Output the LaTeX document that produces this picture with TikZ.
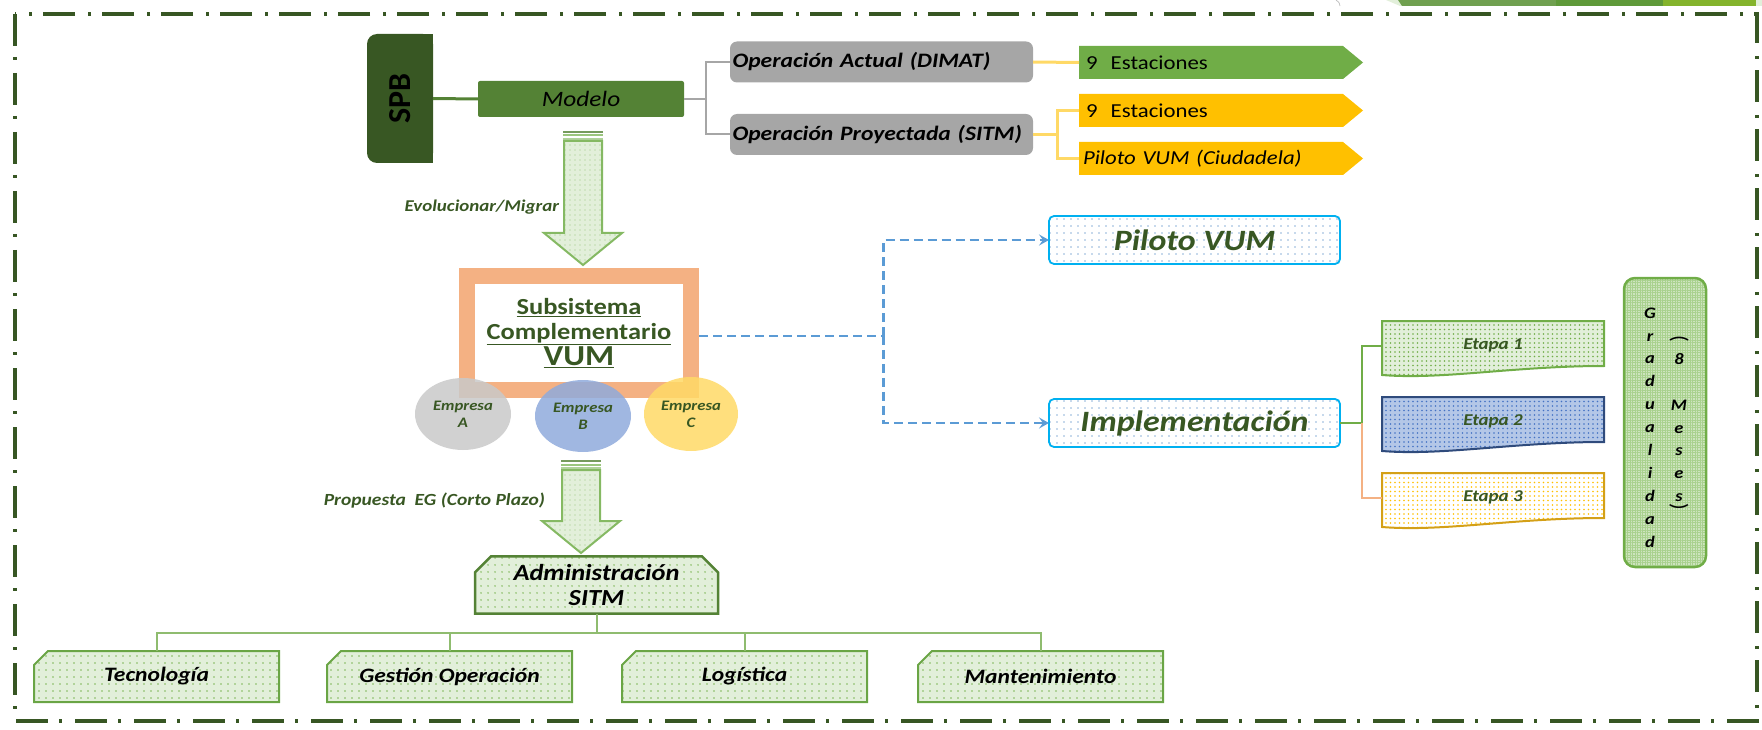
\documentclass[tikz,border=0pt]{standalone}
\usepackage{fontspec}
\setmainfont{Carlito}[FakeStretch=1.15]
\newfontfamily\plainfont{Carlito}
\usetikzlibrary{shapes.geometric,shapes.misc,patterns.meta,backgrounds,calc,arrows.meta}

\definecolor{framegreen}{HTML}{375623}
\definecolor{spbgreen}{HTML}{385723}
\definecolor{modgreen}{HTML}{548235}
\definecolor{opgray}{HTML}{A6A6A6}
\definecolor{lyellow}{HTML}{FFD966}
\definecolor{sgreen}{HTML}{70AD47}
\definecolor{syellow}{HTML}{FFC000}
\definecolor{orangef}{HTML}{F4B183}
\definecolor{dashblue}{HTML}{5B9BD5}
\definecolor{cyanb}{HTML}{00B0F0}
\definecolor{txtgreen}{HTML}{385723}
\definecolor{lgreen}{HTML}{E2EFDA}
\definecolor{dotgreen}{HTML}{7FB85A}
\definecolor{boxgreen}{HTML}{6AA545}
\definecolor{blfill}{HTML}{B4C7E7}
\definecolor{bldot}{HTML}{4472C4}
\definecolor{blborder}{HTML}{2F4B7C}
\definecolor{ylborder}{HTML}{D4A017}
\definecolor{gradfill}{HTML}{CDE4BE}
\definecolor{gradhatch}{HTML}{A9D18E}
\definecolor{empA}{HTML}{C9C9C9}
\definecolor{empB}{HTML}{8FAADC}
\definecolor{empC}{HTML}{FFD966}
\definecolor{dotblue}{HTML}{8FB4D9}
\definecolor{treeline}{HTML}{8FBC6F}
\definecolor{decolight}{HTML}{E2EFDA}
\definecolor{decogA}{HTML}{70A050}
\definecolor{decogB}{HTML}{5F9A3A}
\definecolor{decogC}{HTML}{84B42C}

\newcommand{\fsz}[2]{\fontsize{#1}{#2}\selectfont}
\newcommand{\sigshape}[2]{\fill[#2] (#1.north west) -- (#1.north east) -- ($(#1.east)+(20,0)$) -- (#1.south east) -- (#1.south west) -- cycle;}
\newcommand{\docshape}[2]{\path[#2] (#1.north west) -- (#1.north east) -- ($(#1.south east)+(0,-4)$) .. controls ($(#1.south east)+(-90,-4)$) and ($(#1.south west)+(60,10)$) .. ($(#1.south west)+(0,5)$) -- cycle;}
\newcommand{\bigarrow}[3]{%
  \fill[modgreen!80] ({#1-20},{#2}) rectangle ({#1+20},{#2+2});
  \fill[sgreen!70] ({#1-20},{#2+3.5}) rectangle ({#1+20},{#2+5.5});
  \fill[sgreen!55] ({#1-20},{#2+7}) rectangle ({#1+20},{#2+9});
  \path[preaction={fill=lgreen}, pattern={Dots[distance=5pt,radius=0.6pt]}, pattern color=dotgreen!80, draw=sgreen!85, line width=2pt, line join=miter]
    ({#1-19},{#2+10}) -- ({#1+19},{#2+10}) -- ({#1+19},{#3-32}) -- ({#1+39},{#3-32}) -- (#1,#3) -- ({#1-39},{#3-32}) -- ({#1-19},{#3-32}) -- cycle;}

\tikzset{
  base/.style={inner sep=0pt, outer sep=0pt},
  dotfill/.style n args={4}{preaction={fill=#1}, pattern={Dots[distance=#3,radius=#4]}, pattern color=#2},
  opbox/.style={base, fill=opgray, rounded corners=7pt, minimum width=303pt, minimum height=41pt, text width=298pt, align=left, font=\bfseries\itshape\fsz{20.5}{22}},
  sigbox/.style={base, minimum width=264pt, minimum height=33pt, text width=250pt, align=left, font=\fsz{19.8}{21}},
  empbox/.style={base, ellipse, minimum width=96pt, minimum height=72pt, fill=#1, fill opacity=0.85, text opacity=1, align=center, text=txtgreen, font=\bfseries\itshape\fsz{14.5}{17}},
  pvbox/.style={base, draw=cyanb, line width=1.8pt, rounded corners=5pt, minimum width=291pt, minimum height=48pt, dotfill={white}{dotblue}{7pt}{0.8pt}, text=txtgreen, font=\bfseries\itshape\fsz{29.5}{30}},
  etbox/.style={base, minimum width=222pt, minimum height=49pt, text=txtgreen, font=\bfseries\itshape\fsz{16.5}{18}},
  botbox/.style={base, chamfered rectangle, chamfered rectangle corners=north west, chamfered rectangle xsep=7pt, chamfered rectangle ysep=7pt, minimum width=245pt, minimum height=51pt, draw=boxgreen, line width=2pt, dotfill={lgreen}{dotgreen}{6.5pt}{0.9pt}, font=\bfseries\itshape\fsz{20.5}{22}},
  conn/.style={line width=#1},
  dashconn/.style={draw=dashblue, line width=2.5pt, dash pattern=on 9pt off 5pt},
  tree/.style={draw=treeline, line width=2pt},
  gradtxt/.style={base, align=center, font=\bfseries\itshape\fsz{16}{22.9}}
}

\begin{document}
\begin{tikzpicture}[x=1pt,y=-1pt]
\useasboundingbox (0,0) rectangle (1762,730);

% decoration at top right
\fill[decolight] (1386,0) -- (1762,0) -- (1762,6) -- (1400,6) -- cycle;
\fill[decogA] (1398,0) -- (1556,0) -- (1556,6) -- (1402,6) -- cycle;
\fill[decogB] (1556,0) rectangle (1663,6);
\fill[decogC] (1663,0) rectangle (1756,6);
\draw[gray!55, line width=0.7pt] (1336,0) .. controls (1339,2) .. (1340,6);

% frame
\draw[framegreen, line width=4pt, dash pattern=on 32pt off 11pt on 3pt off 13pt] (15,14) rectangle (1757,721);

% top part
\node[base, minimum width=66pt, minimum height=129pt, font=\plainfont\bfseries\fsz{32}{32}] (spb) at (400,98.5) {\rotatebox{90}{SPB}};
\node[base, fill=modgreen, rounded corners=2pt, minimum width=206pt, minimum height=36pt, font=\itshape\fsz{22}{24}] (modelo) at (581,99) {Modelo};
\node[opbox] (opa) at (881.5,62) {Operación Actual (DIMAT)};
\node[opbox] (opp) at (881.5,134.5) {Operación Proyectada (SITM)};
\node[sigbox] (est1) at (1211,62.5) {9\ \ Estaciones};
\node[sigbox] (est2) at (1211,110.5) {9\ \ Estaciones};
\node[sigbox, font=\itshape\fsz{19.8}{21}, text width=256pt] (pil) at (1211,158.5) {Piloto VUM (Ciudadela)};

% VUM frame and companies
\node[base, draw=orangef, line width=16pt, minimum width=224.5pt, minimum height=114.5pt, outer sep=8pt, align=center, text=txtgreen, font=\bfseries\fsz{23}{25}] (vum) at (579,332.75)
  {\underline{Subsistema}\\ \underline{Complementario}\\[1pt] {\fsz{29}{28}\underline{VUM}}};
\node[empbox=empA] (empa) at (463,414) {Empresa\\A};
\node[empbox=empB] (empb) at (583,416) {Empresa\\B};
\node[empbox=empC, minimum width=94pt, minimum height=74pt] (empc) at (691,414) {Empresa\\C};

% big arrows and their labels
\bigarrow{583}{131}{265}
\bigarrow{581}{460}{553}
\node[base, anchor=east, text=txtgreen, font=\bfseries\itshape\fsz{16.5}{18}] (evo) at (559,207) {Evolucionar/Migrar};
\node[base, anchor=east, text=txtgreen, font=\bfseries\itshape\fsz{17}{18}] (prop) at (545,501) {Propuesta\ \ EG (Corto Plazo)};

% administration tree
\node[base, chamfered rectangle, chamfered rectangle corners={north west, north east}, chamfered rectangle xsep=8pt, chamfered rectangle ysep=8pt, minimum width=243pt, minimum height=54pt, draw=modgreen, line width=2.5pt, dotfill={lgreen}{dotgreen}{6.5pt}{0.9pt}, align=center, font=\bfseries\itshape\fsz{23}{25}] (adm) at (596.5,585) {Administración\\SITM};
\node[botbox] (tec) at (156.5,676.5) {Tecnología};
\node[botbox] (gest) at (449.5,676.5) {Gestión Operación};
\node[botbox] (logi) at (744.5,676.5) {Logística};
\node[botbox] (mant) at (1040.5,676.5) {Mantenimiento};

% right part
\node[pvbox] (pvum) at (1194.5,240) {Piloto VUM};
\node[pvbox] (impl) at (1194.5,423) {Implementación};
\node[etbox] (et1) at (1493,345.5) {Etapa 1};
\node[etbox] (et2) at (1493,421.5) {Etapa 2};
\node[etbox] (et3) at (1493,497.5) {Etapa 3};
\node[base, draw=sgreen, line width=2.5pt, rounded corners=11pt, minimum width=82pt, minimum height=289pt, preaction={fill=gradfill}, pattern={Hatch[distance=2.5pt,line width=0.35pt]}, pattern color=gradhatch] (grad) at (1665,422.5) {};
\node[gradtxt] (gr1) at (1650,427.5) {G\\r\\a\\d\\u\\a\\l\\i\\d\\a\\d};
\node[gradtxt] (gr2) at (1679,427.6) {8\\ \\M\\e\\s\\e\\s};
\node[base, rotate=-90, font=\plainfont\fsz{22}{22}] (gp1) at (1679,339) {(};
\node[base, rotate=-90, font=\plainfont\fsz{22}{22}] (gp2) at (1679,507) {)};

% background shapes
\begin{scope}[on background layer]
  \fill[spbgreen, rounded corners=10pt] (spb.north west) rectangle (spb.south east);
  \fill[spbgreen] (spb.north) rectangle (spb.south east);
  \sigshape{est1}{sgreen}
  \sigshape{est2}{syellow}
  \sigshape{pil}{syellow}
  \docshape{et1}{draw=sgreen, line width=2pt, dotfill={lgreen}{sgreen}{4.5pt}{0.85pt}}
  \docshape{et2}{draw=blborder, line width=2pt, dotfill={blfill}{bldot}{4.5pt}{0.85pt}}
  \docshape{et3}{draw=ylborder, line width=2pt, dotfill={white}{syellow}{4.5pt}{0.85pt}}
\end{scope}

% connectors
\draw[conn=3pt, modgreen] (spb.east) -- (modelo.west);
\draw[conn=2pt, opgray] (modelo.east) -- ++(22,0) coordinate (mj) |- (opa.west);
\draw[conn=2pt, opgray] (mj) |- (opp.west);
\draw[conn=3pt, lyellow] (opa.east) -- (est1.west);
\draw[conn=3pt, lyellow] (opp.east) -- ++(24,0) coordinate (pj) |- (est2.west);
\draw[conn=3pt, lyellow] (pj) |- (pil.west);

\draw[dashconn] ($(vum.east)+(0,3)$) -- ++(184,0) coordinate (dj);
\draw[dashconn, -{Stealth[length=10pt,width=11pt,inset=4pt]}] (dj) |- (pvum.west);
\draw[dashconn, -{Stealth[length=10pt,width=11pt,inset=4pt]}] (dj) |- (impl.west);

\draw[conn=2pt, sgreen] (impl.east) -- ++(22,0) coordinate (ij) |- (et1.west);
\draw[conn=2pt, orangef] (ij) |- (et3.west);

\draw[tree] (adm.south) -- ++(0,19) coordinate (tj);
\draw[tree] (tj) -| (tec.north);
\draw[tree] (tj) -| (gest.north);
\draw[tree] (tj) -| (logi.north);
\draw[tree] (tj) -| (mant.north);
\end{tikzpicture}
\end{document}
